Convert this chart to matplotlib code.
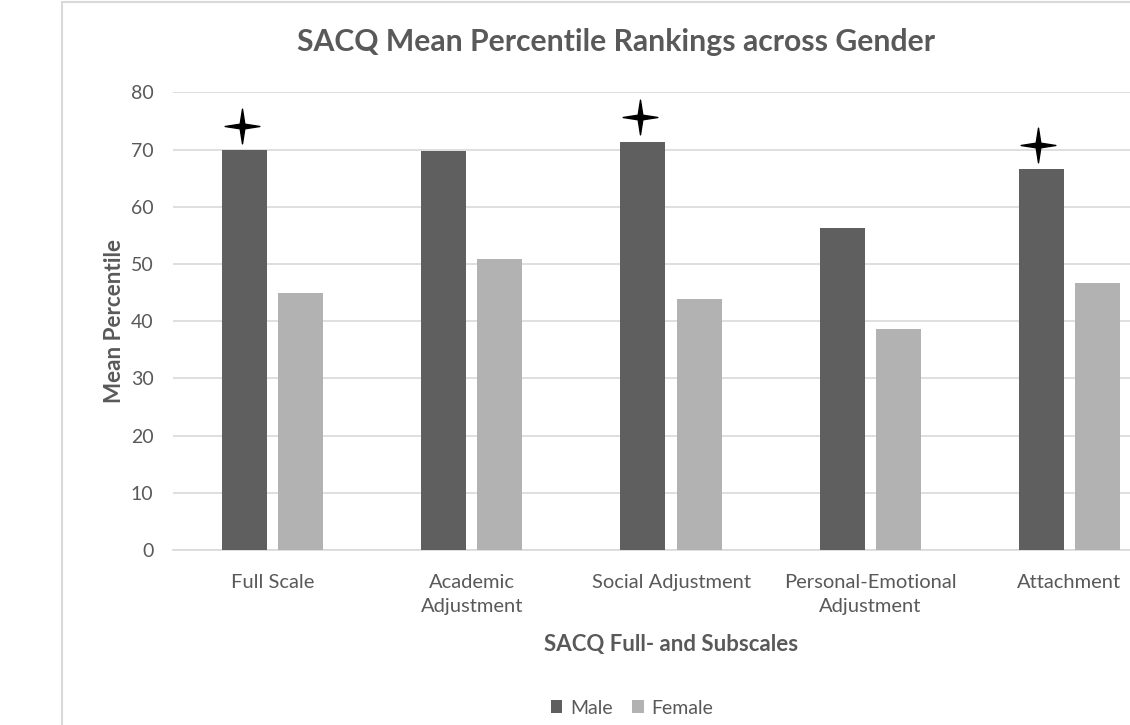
import matplotlib
matplotlib.use("Agg")
import matplotlib.pyplot as plt
import numpy as np
from matplotlib.path import Path
from matplotlib.patches import Rectangle

categories = ["Full Scale", "Academic\nAdjustment", "Social Adjustment",
              "Personal-Emotional\nAdjustment", "Attachment"]
male = [69.9, 69.7, 71.4, 56.2, 66.6]
female = [44.9, 50.9, 43.9, 38.6, 46.7]
significant = [True, False, True, False, True]
yticks = [0, 10, 20, 30, 40, 50, 60, 70, 80]

FONT = "Lato"
TXT = "#595959"
GRID = "#D9D9D9"
MALE_C = "#5F5F5F"
FEMALE_C = "#B2B2B2"

plt.rcParams["font.family"] = [FONT, "DejaVu Sans"]

W, H = 1130, 725
fig = plt.figure(figsize=(W / 100, H / 100), dpi=100)

# chart-area border (extends past right/bottom edges of the image)
fig.patches.append(Rectangle((62 / W, -0.05), 1.2, 1 - 1.5 / H + 0.05,
                             transform=fig.transFigure, fill=False,
                             edgecolor=GRID, linewidth=1.5))

ax = fig.add_axes([173 / W, 1 - 550 / H, 996 / W, (550 - 92.3) / H])

x = np.arange(len(categories))
bw = 0.226
off = 0.141
ax.bar(x - off, male, bw, color=MALE_C, label="Male", zorder=3)
ax.bar(x + off, female, bw, color=FEMALE_C, label="Female", zorder=3)

# four-point star marker
r = 0.19
angles = np.arange(8) * np.pi / 4 + np.pi / 2
rad = np.array([1, r] * 4)
verts = np.column_stack([rad * np.cos(angles), rad * np.sin(angles)])
verts = np.vstack([verts, verts[:1]])
codes = [Path.MOVETO] + [Path.LINETO] * 7 + [Path.CLOSEPOLY]
star = Path(verts, codes)
sx = [xi - off - 0.015 for xi, s in zip(x, significant) if s]
sy = [m + 4.2 for m, s in zip(male, significant) if s]
ax.plot(sx, sy, linestyle="none", marker=star, markersize=25,
        color="black", zorder=4, clip_on=False)

ax.set_xlim(-0.5, len(categories) - 0.5)
ax.set_ylim(0, 80)
ax.set_yticks(yticks)
ax.set_xticks(x)
ax.set_xticklabels(categories, fontsize=14.5, color=TXT, linespacing=1.5)
ax.tick_params(axis="y", length=0, pad=14, labelsize=14, labelcolor=TXT)
ax.tick_params(axis="x", length=0, pad=17)
ax.grid(axis="y", color=GRID, linewidth=1.2, zorder=0)
for s in ["top", "right", "left"]:
    ax.spines[s].set_visible(False)
ax.spines["bottom"].set_color(GRID)
ax.spines["bottom"].set_linewidth(1.2)

ax.set_xlabel("SACQ Full- and Subscales", fontsize=16, fontweight="bold",
              color=TXT, labelpad=14)
ax.set_ylabel("Mean Percentile", fontsize=16.2, fontweight="bold",
              color=TXT, labelpad=4)

fig.text(616 / W, 1 - 42 / H, "SACQ Mean Percentile Rankings across Gender",
         ha="center", va="center", fontsize=21.7, fontweight="bold", color=TXT)

leg = fig.legend(loc="center", bbox_to_anchor=(632 / W, 1 - 708 / H), ncol=2,
                 frameon=False, fontsize=14, handlelength=0.6, handleheight=0.6,
                 columnspacing=1.0, handletextpad=0.4)
for t in leg.get_texts():
    t.set_color(TXT)

fig.savefig("out.png", dpi=100)
